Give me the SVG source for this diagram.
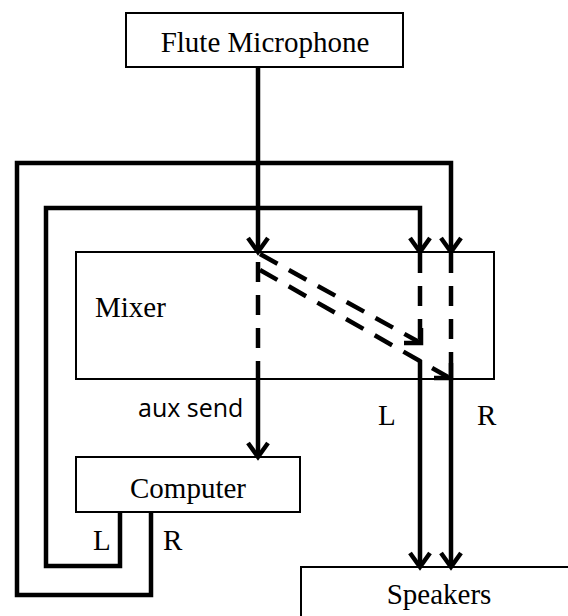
<svg xmlns="http://www.w3.org/2000/svg" width="568" height="616" viewBox="0 0 568 616">
<style>
.box{fill:#fff;stroke:#000;stroke-width:2}
.t{font-family:"Liberation Serif","Times New Roman",serif;font-size:29px;fill:#000}
.s{font-family:"Open Sans","Liberation Sans",sans-serif;font-size:25px;fill:#000}
.w{fill:none;stroke:#000;stroke-width:4.5;stroke-linejoin:miter}
.d{fill:none;stroke:#000;stroke-width:4.5;stroke-dasharray:20 13}
.h{fill:none;stroke:#000;stroke-width:4.5;stroke-linejoin:miter;stroke-linecap:butt}
</style>
<rect width="568" height="616" fill="#fff"/>
<g id="mixer"><rect class="box" x="76" y="252" width="418" height="127"/><text class="t" x="95" y="317">Mixer</text></g>
<g id="flute-microphone"><rect class="box" x="126" y="13" width="277" height="54"/><text class="t" x="265" y="52" text-anchor="middle">Flute Microphone</text></g>
<g id="computer"><rect class="box" x="76" y="457" width="224" height="55"/><text class="t" x="188" y="498" text-anchor="middle">Computer</text></g>
<g id="speakers"><rect class="box" x="301" y="567" width="280" height="60"/><text class="t" x="439" y="604" text-anchor="middle">Speakers</text></g>
<g id="connectors">
<path class="w" d="M258 67V251"/>
<path class="h" d="M248 238L258 252L268 238"/>
<path class="w" d="M151 512V595H17V163H451V251"/>
<path class="h" d="M441 238L451 252L461 238"/>
<path class="w" d="M120 512V566H46V208H420V251"/>
<path class="h" d="M410 238L420 252L430 238"/>
<path class="d" d="M258 262V379"/>
<path class="w" d="M258 379V456"/>
<path class="h" d="M248 443L258 457L268 443"/>
<path class="d" d="M420 253V339"/>
<path class="d" d="M451 253V360"/>
<path class="d" d="M260 254L419 342"/>
<path class="h" d="M404 343H421V328"/>
<path class="d" d="M260 270L448 377"/>
<path class="h" d="M434 378H451V363"/>
<path class="w" d="M420 360V566"/>
<path class="w" d="M451 360V566"/>
<path class="h" d="M410 553L420 567L430 553"/>
<path class="h" d="M441 553L451 567L461 553"/>
</g>
<text class="s" x="138" y="417">aux send</text>
<text class="t" x="378" y="425">L</text>
<text class="t" x="477" y="425">R</text>
<text class="t" x="93" y="550">L</text>
<text class="t" x="163" y="550">R</text>
</svg>
